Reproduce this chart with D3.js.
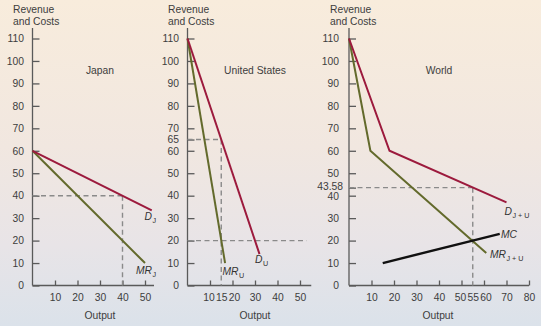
<!DOCTYPE html>
<html>
<head>
<meta charset="utf-8">
<script src="https://cdn.jsdelivr.net/npm/d3@7"></script>
<style>
  html, body { margin: 0; padding: 0; }
  svg { display: block; font-family: "Liberation Sans", Arial, Helvetica, sans-serif; }
  .axis path, .axis line { stroke: #5a5a5a; stroke-width: 1.3; }
  .axis text { fill: #3d3d3d; font-size: 10.3px; font-family: "Liberation Sans", Arial, sans-serif; }
</style>
</head>
<body>
<svg id="chart" width="541" height="326"></svg>
<script>
// Price axis shared by the three markets
const priceTicks = [0, 10, 20, 30, 40, 50, 60, 70, 80, 90, 100, 110];

// Japan
const japanDemand = [[0, 60], [53, 33.5]];
const japanMR = [[0, 60], [50, 10]];
const japanQtyTicks = [10, 20, 30, 40, 50];
const japanPrice = 40, japanQty = 40;

// United States
const usDemand = [[0, 110], [32, 14]];
const usMR = [[0, 110], [16.7, 10]];
const usQtyTicks = [10, 15, 20, 30, 40, 50];
const usPrice = 65, usQty = 15, usCost = 20;

// World (horizontal sums)
const worldDemand = [[0, 110], [18, 60], [70, 37]];
const worldMR = [[0, 110], [9.5, 60], [61, 14.5]];
const worldMC = [[15, 10], [67, 23]];
const worldQtyTicks = [10, 20, 30, 40, 50, 55, 60, 70, 80];
const worldPrice = 43.58, worldQty = 55;

const svg = d3.select("#chart");
const W = 541, H = 326;
const FS = 10.3, INK = "#3d3d3d";

// backdrop: warm at top fading to a cool grey-blue
const defs = svg.append("defs");
const grad = defs.append("linearGradient").attr("id", "bg").attr("x1", 0).attr("y1", 0).attr("x2", 0).attr("y2", 1);
grad.append("stop").attr("offset", "0%").attr("stop-color", "#f8ecdc");
grad.append("stop").attr("offset", "45%").attr("stop-color", "#f1e7e0");
grad.append("stop").attr("offset", "75%").attr("stop-color", "#e8e4e7");
grad.append("stop").attr("offset", "100%").attr("stop-color", "#dbe2ea");
svg.append("rect").attr("width", W).attr("height", H).attr("fill", "url(#bg)");

const y = d3.scaleLinear().domain([0, 110]).range([285.5, 38.5]);
const yTop = 28;

const RED = "#9c1a3d", OLIVE = "#636a2c", DASH = "#8a8a8a";
const line = (x) => d3.line().x(d => x(d[0])).y(d => y(d[1]));

function panel(opts) {
  const x = d3.scaleLinear().domain([0, opts.qMax]).range([opts.x0, opts.x0 + 2.25 * opts.qMax]);
  const g = svg.append("g");

  // axis title
  const t = g.append("text").attr("x", opts.labelX).attr("y", 13)
    .attr("font-size", FS).attr("fill", INK);
  t.append("tspan").attr("x", opts.labelX).attr("y", 13).text("Revenue");
  t.append("tspan").attr("x", opts.labelX).attr("y", 24.5).text("and Costs");

  // market name
  g.append("text").attr("x", opts.titleX).attr("y", 74).attr("text-anchor", "middle")
    .attr("font-size", FS).attr("fill", INK).text(opts.title);

  // y axis
  const yAxis = d3.axisLeft(y).tickValues(opts.yTicks).tickSize(-7).tickPadding(opts.yPad)
    .tickFormat(d => String(d));
  const ya = g.append("g").attr("class", "axis").attr("transform", `translate(${opts.x0},0)`).call(yAxis);
  ya.select(".domain").remove();
  ya.append("line").attr("x1", 0).attr("x2", 0).attr("y1", yTop).attr("y2", y(0))
    .attr("stroke", "#5a5a5a").attr("stroke-width", 1.3);
  (opts.yNudge || []).forEach(n => ya.selectAll(".tick").filter(d => d === n.v).select("text")
    .attr("dx", n.dx || 0).attr("y", n.dy || 0).attr("font-size", n.fs || null));

  // x axis
  const xAxis = d3.axisBottom(x).tickValues(opts.xTicks).tickSize(-5).tickPadding(8)
    .tickFormat(d => String(d));
  const xa = g.append("g").attr("class", "axis").attr("transform", `translate(0,${y(0)})`).call(xAxis);
  xa.select(".domain").attr("d", `M${x(0)},0H${x(opts.qMax)}`);
  xa.selectAll(".tick").filter(d => (opts.noTick || []).includes(d)).select("line").remove();
  (opts.xNudge || []).forEach(n => xa.selectAll(".tick").filter(d => d === n.v).select("text").attr("dx", n.dx));

  g.append("text").attr("x", opts.outX).attr("y", 318.5).attr("text-anchor", "middle")
    .attr("font-size", FS).attr("fill", INK).text("Output");

  // guide lines
  const dash = (x1, y1, x2, y2) => g.append("line").attr("x1", x1).attr("y1", y1).attr("x2", x2).attr("y2", y2)
    .attr("stroke", DASH).attr("stroke-width", 1.4).attr("stroke-dasharray", "5,3.5");
  dash(x(0), y(opts.price), x(opts.qty), y(opts.price));
  dash(x(opts.qty), y(opts.price), x(opts.qty), y(0));
  if (opts.cost != null) dash(x(0), y(opts.cost), x(opts.costEnd), y(opts.cost));

  // curves
  g.append("path").attr("d", line(x)(opts.mr)).attr("fill", "none").attr("stroke", OLIVE).attr("stroke-width", 2);
  g.append("path").attr("d", line(x)(opts.demand)).attr("fill", "none").attr("stroke", RED).attr("stroke-width", 2);
  if (opts.mc) g.append("path").attr("d", line(x)(opts.mc)).attr("fill", "none").attr("stroke", "#111").attr("stroke-width", 2.4);

  // curve labels
  opts.labels.forEach(l => {
    const tx = g.append("text").attr("x", l.x).attr("y", l.y).attr("fill", "#333").attr("font-size", FS);
    tx.append("tspan").attr("font-style", "italic").text(l.main);
    if (l.sub) tx.append("tspan").attr("font-size", 7.2).attr("dx", 0.5).attr("dy", 3).text(l.sub);
  });
  return x;
}

panel({
  x0: 32.5, qMax: 54, labelX: 13, title: "Japan", titleX: 100, outX: 100,
  yTicks: priceTicks, yPad: 8.5, xTicks: japanQtyTicks,
  demand: japanDemand, mr: japanMR, price: japanPrice, qty: japanQty,
  labels: [
    { x: 144.5, y: 220, main: "D", sub: "J" },
    { x: 136, y: 274, main: "MR", sub: "J" }
  ]
});

panel({
  x0: 187.5, qMax: 55, labelX: 168, title: "United States", titleX: 255, outX: 255,
  yTicks: priceTicks.concat([usPrice]), yPad: 8.5, xTicks: usQtyTicks, noTick: [15],
  xNudge: [{ v: 10, dx: -1.5 }, { v: 20, dx: 1.5 }],
  demand: usDemand, mr: usMR, price: usPrice, qty: usQty, cost: usCost, costEnd: 53,
  labels: [
    { x: 255, y: 263, main: "D", sub: "U" },
    { x: 222.5, y: 275, main: "MR", sub: "U" }
  ]
});

panel({
  x0: 349, qMax: 80, labelX: 330, title: "World", titleX: 439, outX: 438,
  yTicks: priceTicks.concat([worldPrice]), yPad: 10,
  yNudge: [{ v: worldPrice, dx: 4, dy: -1.2, fs: 9.6 }, { v: 40, dy: 0.8 }],
  xTicks: worldQtyTicks, noTick: [55],
  xNudge: [{ v: 50, dx: -1.5 }, { v: 60, dx: 1.5 }],
  demand: worldDemand, mr: worldMR, mc: worldMC, price: worldPrice, qty: worldQty,
  labels: [
    { x: 504.5, y: 215, main: "D", sub: "J + U" },
    { x: 501, y: 238, main: "MC" },
    { x: 490, y: 258, main: "MR", sub: "J + U" }
  ]
});
</script>
</body>
</html>
